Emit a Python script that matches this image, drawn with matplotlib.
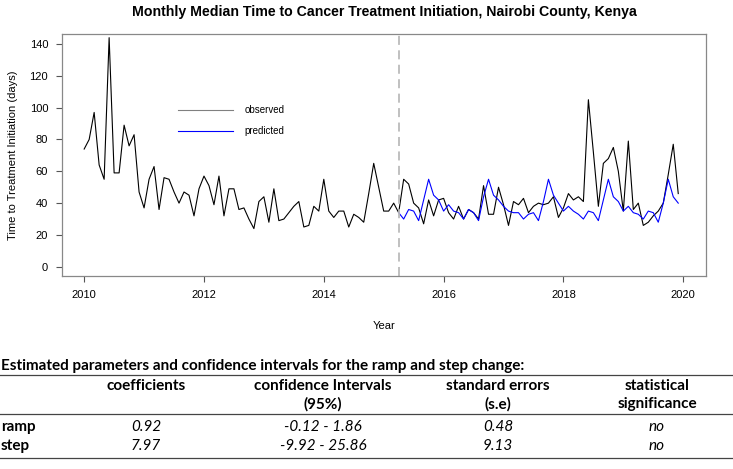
import matplotlib.pyplot as plt
import numpy as np

# monthly medians (days), Jan 2010 - Dec 2019
observed = [74, 80, 97, 64, 55, 144, 59, 59, 89, 76, 83, 47,
            37, 55, 63, 36, 56, 55, 47, 40, 47, 45, 32, 49,
            57, 51, 39, 57, 32, 49, 49, 36, 37, 30, 24, 41,
            44, 28, 49, 29, 30, 34, 38, 41, 25, 26, 38, 35,
            55, 35, 31, 35, 35, 25, 33, 31, 28, 46, 65, 50,
            35, 35, 40, 34, 55, 52, 40, 37, 27, 42, 32, 42,
            43, 34, 30, 38, 30, 36, 34, 30, 51, 33, 33, 50,
            39, 26, 41, 39, 43, 34, 38, 40, 39, 40, 44, 31,
            37, 46, 42, 44, 41, 105, 72, 38, 65, 68, 75, 60,
            35, 79, 36, 40, 26, 28, 32, 35, 40, 58, 77, 46]

# predicted series from Apr 2015 onwards
predicted = [34, 30, 36, 35, 29, 42, 55, 45, 42,
             35, 39, 35, 34, 30, 36, 34, 29, 44, 55, 45, 42,
             38, 35, 34, 34, 30, 33, 34, 29, 41, 55, 45, 40,
             35, 38, 35, 33, 30, 35, 34, 29, 42, 55, 44, 41,
             35, 38, 34, 33, 30, 35, 34, 28, 40, 55, 44, 40]

start_year = 2010
intervention = 2015.25

heading = "Estimated parameters and confidence intervals for the ramp and step change:"
col_top = ["coefficients", "confidence Intervals", "standard errors", "statistical"]
col_bottom = ["", "(95%)", "(s.e)", "significance"]
row_names = ["ramp", "step"]
coefficients = ["0.92", "7.97"]
conf_intervals = ["-0.12 - 1.86", "-9.92 - 25.86"]
std_errors = ["0.48", "9.13"]
significance = ["no", "no"]

W, H = 733, 469
years = start_year + np.arange(len(observed)) / 12
pred_years = years[len(observed) - len(predicted):]

plt.rcParams['font.family'] = ['Liberation Sans', 'DejaVu Sans']
fig = plt.figure(figsize=(W / 100, H / 100), dpi=100)

ax = fig.add_axes([62 / W, 1 - 276 / H, (706 - 62) / W, (276 - 34) / H])
ax.plot(years, observed, color='black', lw=0.8, label='observed')
ax.plot(pred_years, predicted, color='blue', lw=0.8, label='predicted')
ax.axvline(intervention, color='#bbbbbb', lw=1.3, ls=(0, (5, 3)))

ax.set_xlim(2009.63, 2020.38)
ax.set_ylim(-5.8, 146.3)
ax.set_xticks(range(2010, 2021, 2))
ax.set_yticks(range(0, 141, 20))
for s in ax.spines.values():
    s.set_color('#888888')
    s.set_linewidth(0.9)
ax.tick_params(colors='#555555', labelcolor='black', labelsize=8, length=4, width=0.8, pad=6)

ax.set_title("Monthly Median Time to Cancer Treatment Initiation, Nairobi County, Kenya",
             fontsize=10.2, fontweight='bold', pad=13)
ax.set_xlabel("Year", fontsize=8)
ax.set_ylabel("Time to Treatment Initiation (days)", fontsize=8)
ax.xaxis.set_label_coords(0.5, -0.185)
ax.yaxis.set_label_coords(-0.068, 0.5)

leg = ax.legend(loc='upper left', bbox_to_anchor=(0.172, 0.725), frameon=False,
                fontsize=7, handlelength=5.7, handletextpad=1.2, labelspacing=1.1,
                borderpad=0)
leg.get_lines()[0].set_color('#808080')

# table below the chart, laid out in pixel units
tab = fig.add_axes([0, 0, 1, 1], zorder=-1)
tab.set_xlim(0, W)
tab.set_ylim(H, 0)
tab.axis('off')

tfont = ['Lato', 'DejaVu Sans']
tab.text(1, 366, heading, fontsize=11, fontweight='bold', family=tfont, va='center')
for y in (375, 414, 458):
    tab.axhline(y, color='#444444', lw=0.9)

col_x = [146, 323, 498, 657]
for cx, top, bottom in zip(col_x, col_top, col_bottom):
    tab.text(cx, 386, top, fontsize=11, fontweight='bold', family=tfont, ha='center', va='center')
    tab.text(cx, 404, bottom, fontsize=11, fontweight='bold', family=tfont, ha='center', va='center')

for i, y in enumerate((427, 446)):
    tab.text(1, y, row_names[i], fontsize=11, fontweight='bold', family=tfont, va='center')
    vals = [coefficients[i], conf_intervals[i], std_errors[i], significance[i]]
    for cx, v in zip(col_x, vals):
        tab.text(cx, y, v, fontsize=11, style='italic', family=tfont, ha='center', va='center')

fig.savefig('out.png', dpi=100)
